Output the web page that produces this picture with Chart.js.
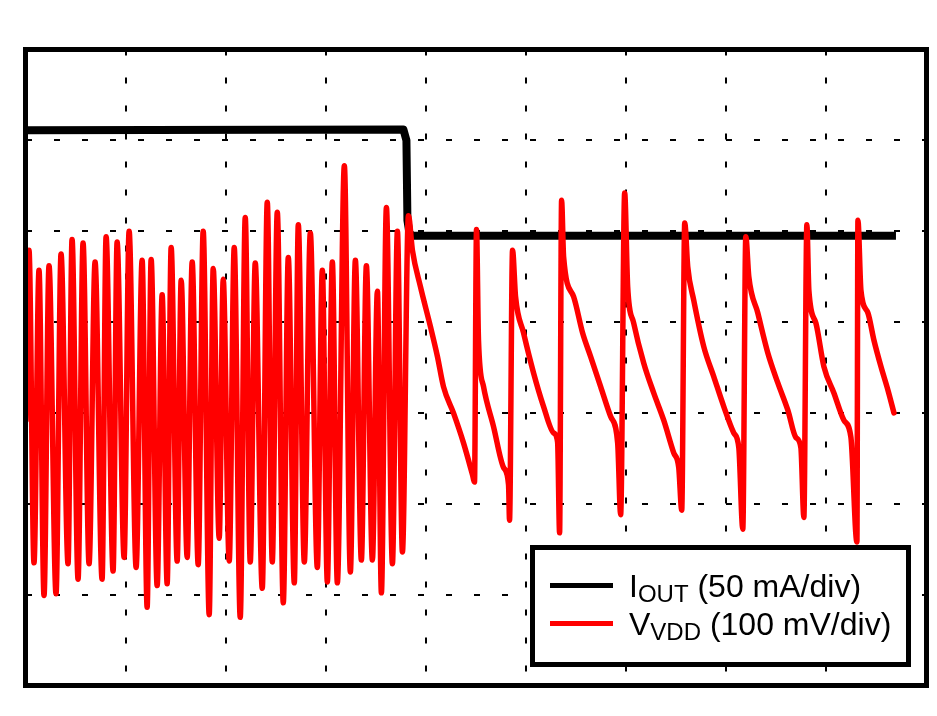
<!DOCTYPE html>
<html>
<head>
<meta charset="utf-8">
<script src="https://cdn.jsdelivr.net/npm/chart.js@4/dist/chart.umd.min.js"></script>
<style>
html,body{margin:0;padding:0;background:#fff;}
#wrap{width:937px;height:716px;}
</style>
</head>
<body>
<div id="wrap"><canvas id="c" width="937" height="716"></canvas></div>
<script>
// Time in horizontal divisions (0..9), values in vertical divisions (0..7)
const ioutTime = [0, 3.775, 3.805, 3.815, 3.835, 3.865, 8.695];
const ioutValue = [6.11, 6.12, 6.00, 5.12, 4.98, 4.95, 4.95];

const vddTime = [
  0.005, 0.035, 0.085, 0.135, 0.185, 0.235, 0.305, 0.355, 0.425, 0.465,
  0.525, 0.575, 0.635, 0.695, 0.765, 0.805, 0.875, 0.915, 0.985, 1.035,
  1.105, 1.165, 1.215, 1.255, 1.315, 1.365, 1.415, 1.455, 1.515, 1.555,
  1.615, 1.665, 1.725, 1.775, 1.835, 1.875, 1.935, 1.975, 2.035, 2.085,
  2.145, 2.195, 2.245, 2.295, 2.365, 2.415, 2.465, 2.515, 2.575, 2.625,
  2.685, 2.725, 2.785, 2.845, 2.915, 2.965, 3.015, 3.065, 3.115, 3.185,
  3.245, 3.295, 3.355, 3.405, 3.465, 3.515, 3.555, 3.605, 3.665, 3.715,
  3.765, 3.825,
  3.865, 3.945, 4.045, 4.115, 4.175, 4.275, 4.375, 4.465, 4.485,
  4.505, 4.525, 4.575, 4.675, 4.775, 4.825, 4.835,
  4.865, 4.895, 4.975, 5.075, 5.175, 5.275, 5.315, 5.335,
  5.355, 5.375, 5.475, 5.565, 5.645, 5.745, 5.845, 5.915, 5.945,
  5.985, 6.015, 6.075, 6.175, 6.275, 6.375, 6.475, 6.525, 6.555,
  6.585, 6.615, 6.675, 6.775, 6.875, 6.975, 7.075, 7.125, 7.165,
  7.195, 7.225, 7.315, 7.415, 7.515, 7.615, 7.695, 7.745, 7.775,
  7.805, 7.825, 7.895, 7.975, 8.075, 8.175, 8.245, 8.305,
  8.315, 8.345, 8.415, 8.475, 8.545, 8.615, 8.675
];
const vddValue = [
  2.92, 4.79, 1.35, 4.57, 0.99, 4.62, 1.01, 4.75, 1.34, 4.91,
  1.17, 4.87, 1.34, 4.66, 1.17, 4.94, 1.26, 4.88, 1.41, 5.00,
  1.30, 4.68, 0.86, 4.69, 1.10, 4.30, 1.12, 4.82, 1.37, 4.46,
  1.41, 4.66, 1.33, 5.00, 0.78, 4.59, 1.62, 4.47, 1.37, 4.82,
  0.75, 5.15, 1.36, 4.65, 1.07, 5.32, 1.36, 5.21, 0.91, 4.71,
  1.13, 5.07, 1.36, 4.98, 1.30, 4.57, 1.14, 4.66, 1.13, 5.72,
  1.25, 4.68, 1.38, 4.62, 1.38, 4.34, 1.02, 5.26, 1.34, 5.00,
  1.47, 5.17,
  4.79, 4.39, 3.95, 3.62, 3.29, 3.00, 2.67, 2.32, 2.24,
  5.02, 3.80, 3.29, 2.85, 2.40, 2.21, 1.82,
  4.79, 4.28, 3.88, 3.44, 3.07, 2.78, 2.68, 1.68,
  5.34, 4.72, 4.28, 3.88, 3.62, 3.29, 2.96, 2.67, 1.88,
  5.42, 4.39, 3.99, 3.55, 3.22, 2.92, 2.56, 2.40, 1.93,
  5.09, 4.61, 4.24, 3.73, 3.40, 3.07, 2.78, 2.62, 1.72,
  4.94, 4.50, 4.10, 3.66, 3.33, 3.03, 2.73, 2.62, 1.85,
  5.07, 4.35, 3.99, 3.51, 3.22, 2.92, 2.73, 1.58,
  5.12, 4.35, 4.10, 3.80, 3.51, 3.25, 3.00
];

const legendMain = ['I', 'V'];
const legendSub = ['OUT', 'VDD'];
const legendUnit = ['(50 mA/div)', '(100 mV/div)'];
const seriesColors = ['#000000', '#ff0000'];

const toPts = (t, v) => t.map((x, i) => ({x: x, y: v[i]}));

const frameAndLegend = {
  id: 'frameAndLegend',
  afterDatasetsDraw(chart) {
    const ctx = chart.ctx;
    const a = chart.chartArea;
    ctx.save();
    ctx.strokeStyle = '#000';
    ctx.lineWidth = 5;
    ctx.strokeRect(a.left, a.top, a.right - a.left, a.bottom - a.top);

    // legend box
    const bx = 532.5, by = 547.5, bw = 376, bh = 117;
    ctx.fillStyle = '#fff';
    ctx.fillRect(bx, by, bw, bh);
    ctx.lineWidth = 5;
    ctx.strokeRect(bx, by, bw, bh);

    const rowsY = [585.5, 623.5];
    const base = [597, 635];
    for (let i = 0; i < 2; i++) {
      ctx.strokeStyle = seriesColors[i];
      ctx.lineWidth = 5;
      ctx.beginPath();
      ctx.moveTo(550, rowsY[i]);
      ctx.lineTo(613, rowsY[i]);
      ctx.stroke();
      ctx.fillStyle = '#000';
      ctx.textBaseline = 'alphabetic';
      ctx.textAlign = 'left';
      let x = 629;
      ctx.font = '32px "Liberation Sans", Arial, sans-serif';
      ctx.fillText(legendMain[i], x, base[i]);
      x += ctx.measureText(legendMain[i]).width;
      ctx.font = '24px "Liberation Sans", Arial, sans-serif';
      ctx.fillText(legendSub[i], x, base[i] + 5);
      x += ctx.measureText(legendSub[i]).width;
      ctx.font = '32px "Liberation Sans", Arial, sans-serif';
      x += ctx.measureText(' ').width;
      ctx.fillText(legendUnit[i], x, base[i]);
    }
    ctx.restore();
  }
};

new Chart(document.getElementById('c'), {
  type: 'line',
  data: {
    datasets: [
      {
        label: 'VVDD (100 mV/div)',
        data: toPts(vddTime, vddValue),
        borderColor: seriesColors[1],
        borderWidth: 5.5,
        pointRadius: 0,
        cubicInterpolationMode: 'monotone',
        borderJoinStyle: 'round',
        borderCapStyle: 'round',
        order: 0
      },
      {
        label: 'IOUT (50 mA/div)',
        data: toPts(ioutTime, ioutValue),
        borderColor: seriesColors[0],
        borderWidth: 8,
        pointRadius: 0,
        tension: 0,
        borderJoinStyle: 'round',
        borderCapStyle: 'butt',
        order: 1
      }
    ]
  },
  options: {
    responsive: false,
    devicePixelRatio: 1,
    animation: false,
    events: [],
    layout: {padding: {left: 25.5, top: 49.5, right: 10.5, bottom: 30.5}},
    plugins: {legend: {display: false}, tooltip: {enabled: false}, title: {display: false}},
    scales: {
      x: {
        type: 'linear', min: 0, max: 9,
        ticks: {display: false, stepSize: 1},
        grid: {color: '#000', lineWidth: 2, drawTicks: false},
        border: {display: false, dash: [6, 22], dashOffset: 0}
      },
      y: {
        type: 'linear', min: 0, max: 7,
        ticks: {display: false, stepSize: 1},
        grid: {color: '#000', lineWidth: 2, drawTicks: false},
        border: {display: false, dash: [6, 22], dashOffset: 0}
      }
    }
  },
  plugins: [frameAndLegend]
});
</script>
</body>
</html>
